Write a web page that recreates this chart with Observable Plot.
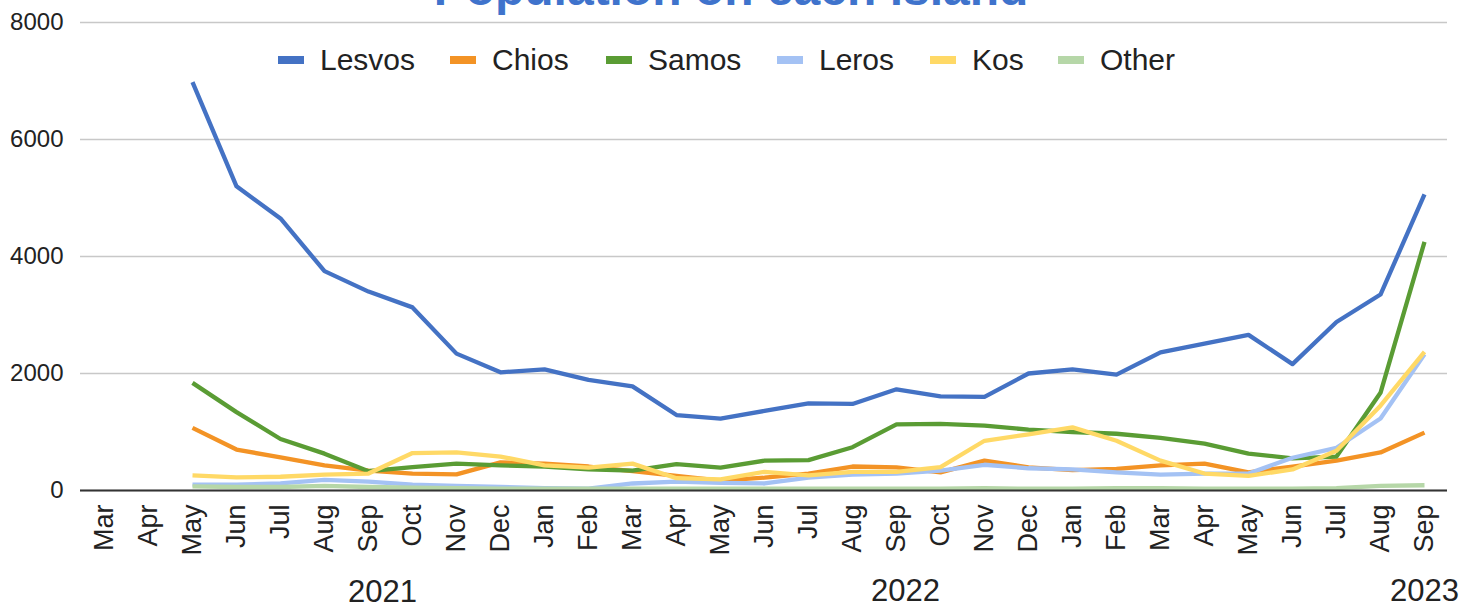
<!DOCTYPE html>
<html><head><meta charset="utf-8">
<script src="https://cdn.jsdelivr.net/npm/d3@7"></script>
<script src="https://cdn.jsdelivr.net/npm/@observablehq/plot@0.6"></script>
<style>
body{margin:0;background:#fff;font-family:"Liberation Sans",Arial,sans-serif}
#wrap{position:relative;width:1479px;height:607px;overflow:hidden}
#title{position:absolute;left:0;width:1462px;top:-35px;text-align:center;font-weight:bold;font-size:48px;line-height:48px;color:#3f73cc;white-space:nowrap}
#legend{position:absolute;left:0;top:0;width:1479px;height:100px;font-size:30px;color:#222;white-space:nowrap}
#legend .sw{position:absolute;top:56px;width:26px;height:8px}
#legend .tx{position:absolute;top:43px;line-height:34px}
svg text{font-family:"Liberation Sans",Arial,sans-serif}
</style></head>
<body><div id="wrap"><div id="title">Population on each island</div><div id="legend"></div></div>
<script>
const months = ["2021-03","2021-04","2021-05","2021-06","2021-07","2021-08","2021-09","2021-10","2021-11","2021-12",
"2022-01","2022-02","2022-03","2022-04","2022-05","2022-06","2022-07","2022-08","2022-09","2022-10","2022-11","2022-12",
"2023-01","2023-02","2023-03","2023-04","2023-05","2023-06","2023-07","2023-08","2023-09"];
const monthLabels = ["Mar","Apr","May","Jun","Jul","Aug","Sep","Oct","Nov","Dec",
"Jan","Feb","Mar","Apr","May","Jun","Jul","Aug","Sep","Oct","Nov","Dec",
"Jan","Feb","Mar","Apr","May","Jun","Jul","Aug","Sep"];
const yearLabels = [{at:"2021-09", label:"2021"},{at:"2022-09", label:"2022"},{at:"2023-09", label:"2023"}];
const yTicks = [0,2000,4000,6000,8000];
const seriesNames = ["Lesvos","Chios","Samos","Leros","Kos","Other"];
const seriesColors = ["#4472c4","#f39325","#5a9c34","#a4c2f4","#ffd966","#b6d7a8"];
const lesvos = [null,null,6980,5200,4650,3750,3400,3130,2340,2020,2070,1890,1780,1290,1230,1360,1490,1480,1730,1610,1600,2000,2070,1980,2360,2510,2660,2160,2880,3350,5060];
const chios  = [null,null,1070,700,565,430,340,290,275,480,460,410,330,250,170,220,290,410,395,310,510,395,350,370,430,460,310,410,510,650,990];
const samos  = [null,null,1840,1340,880,630,330,400,460,430,410,360,340,450,390,510,520,740,1130,1140,1110,1040,1000,970,900,800,630,550,580,1670,4250];
const leros  = [null,null,100,100,120,180,150,100,80,60,40,30,120,150,130,120,220,270,290,340,440,380,360,310,270,290,290,560,730,1230,2330];
const kos    = [null,null,260,225,235,270,290,640,650,580,430,390,460,210,190,320,260,320,320,400,850,960,1080,850,510,290,250,360,680,1450,2370];
const other  = [null,null,70,60,60,80,60,50,40,30,30,30,30,30,30,30,30,30,30,30,40,30,30,40,40,30,30,30,40,80,90];
const allSeries = [lesvos,chios,samos,leros,kos,other];

const rows = [];
allSeries.forEach((arr,si)=>arr.forEach((v,i)=>rows.push({month:months[i], value: v==null?NaN:v, series:seriesNames[si]})));
const labelOf = Object.fromEntries(months.map((m,i)=>[m,monthLabels[i]]));

const chart = Plot.plot({
  width:1479, height:607,
  marginLeft:80, marginRight:32, marginTop:22, marginBottom:117,
  style:{fontFamily:'"Liberation Sans",Arial,sans-serif', background:"transparent", overflow:"visible"},
  x:{type:"point", domain:months, padding:0.5},
  y:{domain:[0,8000]},
  color:{domain:seriesNames, range:seriesColors},
  marks:[
    Plot.gridY(yTicks,{stroke:"#c8c8c8", strokeOpacity:1, strokeWidth:1.5}),
    Plot.axisY(yTicks,{tickSize:0, tickPadding:17, fontSize:24, fill:"#222", label:null, tickFormat:d=>String(d)}),
    Plot.axisX({tickRotate:-90, tickSize:0, tickPadding:14, fontSize:27, fill:"#222", label:null, tickFormat:d=>labelOf[d]}),
    Plot.line(rows,{x:"month", y:"value", z:"series", stroke:"series", strokeWidth:4.3, strokeLinejoin:"round", strokeLinecap:"butt"}),
    Plot.ruleY([0],{stroke:"#333", strokeWidth:2}),
    Plot.text(yearLabels,{x:"at", text:"label", frameAnchor:"bottom", fontSize:31, fill:"#222"})
  ]
});
document.getElementById("wrap").prepend(chart);
// fine offsets for the year labels (as in the reference)
const yearOffsets = [[14,111],[9,110],[0,110]];
chart.querySelectorAll('g[aria-label="text"] text').forEach((t,i)=>{
  const [dx,dy] = yearOffsets[i];
  t.setAttribute("transform", (t.getAttribute("transform")||"") + ` translate(${dx},${dy})`);
});

const legendSwatchX = [278,450,606,777,930,1058];
const lg = document.getElementById("legend");
seriesNames.forEach((n,i)=>{
  const sw = document.createElement("div"); sw.className="sw"; sw.style.background=seriesColors[i]; sw.style.left=legendSwatchX[i]+"px";
  const tx = document.createElement("div"); tx.className="tx"; tx.textContent=n; tx.style.left=(legendSwatchX[i]+42)+"px";
  lg.append(sw,tx);
});
</script></body></html>
